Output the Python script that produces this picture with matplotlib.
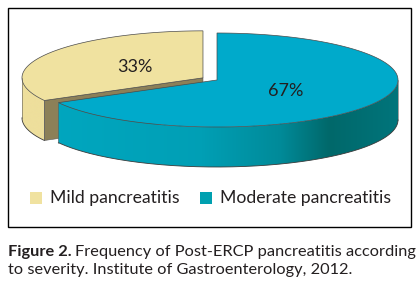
import numpy as np
import matplotlib.pyplot as plt
from matplotlib.patches import Polygon, Rectangle
from matplotlib.colors import to_rgb

# data
categories = ['Mild pancreatitis', 'Moderate pancreatitis']
values = [33, 67]
pct_labels = ['33%', '67%']
top_colors = ['#F0E2A0', '#00AACB']
side_light = ['#EEDF9C', '#00A7C0']
side_dark = ['#E2D28C', '#00686A']
legend_colors = ['#F0E2A0', '#00A0B0']
explode = [0.09, 0.0]

plt.rcParams['font.family'] = ['Lato', 'DejaVu Sans']

fig = plt.figure(figsize=(4.2, 2.89), dpi=100)
ax = fig.add_axes([0, 0, 1, 1])
ax.axis('off')

# pie geometry in pixel space
cx, cy, a, b, depth = 217, 80, 181, 47, 40


def pt(t, ox=0.0, oy=0.0, dz=0.0):
    r = np.radians(t)
    return cx + ox + a * np.cos(r), cy + oy - b * np.sin(r) + dz


def front_part(t0, t1):
    # part of the arc that faces the viewer (lower half of the ellipse)
    for k in (-1, 0, 1):
        lo, hi = max(t0, 180 + 360 * k), min(t1, 360 + 360 * k)
        if hi > lo:
            return lo, hi
    return None


total = float(sum(values))
angles = []
start = 90.0
for v in values:
    span = 360.0 * v / total
    angles.append((start, start + span))
    start += span

# border box
ax.add_patch(Rectangle((8, 8), 403, 219, fill=False, edgecolor='black', lw=1.0))

for i, (t0, t1) in enumerate(angles):
    mid = np.radians((t0 + t1) / 2)
    ox = explode[i] * a * np.cos(mid)
    oy = -explode[i] * b * np.sin(mid)

    # outer side with horizontal shading
    fp = front_part(t0, t1)
    if fp is not None:
        ts = np.linspace(fp[0], fp[1], 200)
        top = [pt(t, ox, oy) for t in ts]
        bot = [pt(t, ox, oy, depth) for t in ts[::-1]]
        side = Polygon(top + bot, closed=True, facecolor='none', edgecolor='none')
        ax.add_patch(side)
        xs = np.array([p[0] for p in top])
        x0, x1 = xs.min(), xs.max()
        gx = np.linspace(x0, x1, 300)
        w = np.interp(gx, [40, 200, 280, 330, 398], [0.0, 0.12, 0.45, 1.0, 0.8])
        c0 = np.array(to_rgb(side_light[i]))
        c1 = np.array(to_rgb(side_dark[i]))
        grad = ((1 - w)[:, None] * c0 + w[:, None] * c1)[None, :, :]
        ys = [p[1] for p in top + bot]
        im = ax.imshow(grad, extent=[x0, x1, max(ys), min(ys)], aspect='auto',
                       interpolation='bilinear', zorder=side.get_zorder())
        im.set_clip_path(side)
        bx, by = zip(*bot)
        ax.plot(bx, by, color='#3a3a3a', lw=0.6)
        for t in fp:
            px, py = pt(t, ox, oy)
            ax.plot([px, px], [py, py + depth], color='#5a5a5a', lw=0.4)

    # visible cut face (points towards the viewer)
    if np.sin(np.radians(t1 + 90)) < 0:
        ex, ey = pt(t1, ox, oy)
        c0 = (cx + ox, cy + oy)
        face = [c0, (ex, ey), (ex, ey + depth), (c0[0], c0[1] + depth)]
        ax.add_patch(Polygon(face, closed=True, facecolor='#8C8058', edgecolor='#5a5a5a', lw=0.4))

    # top face
    ts = np.linspace(t0, t1, 200)
    poly = [(cx + ox, cy + oy)] + [pt(t, ox, oy) for t in ts]
    ax.add_patch(Polygon(poly, closed=True, facecolor=top_colors[i], edgecolor='#4a4a4a', lw=0.5))

    # percentage label
    r = 0.44
    lx = cx + ox + r * a * np.cos(mid)
    ly = cy + oy - r * b * np.sin(mid)
    ax.text(lx, ly, pct_labels[i], ha='center', va='center', fontsize=13, color='#231F20')

# legend
leg_x = [30, 200]
for i, name in enumerate(categories):
    ax.add_patch(Rectangle((leg_x[i], 192), 12, 12, facecolor=legend_colors[i], edgecolor='none'))
    ax.text(leg_x[i] + 20, 198, name, ha='left', va='center', fontsize=12.7, color='#231F20')

ax.set_xlim(0, 420)
ax.set_ylim(289, 0)

# caption
fig.canvas.draw()
renderer = fig.canvas.get_renderer()
bold = ax.text(8, 252, 'Figure 2.', ha='left', va='center', fontsize=11.8,
               fontweight='bold', color='#231F20')
bb = bold.get_window_extent(renderer=renderer)
x_end = ax.transData.inverted().transform((bb.x1, bb.y0))[0]
ax.text(x_end + 3, 252, 'Frequency of Post-ERCP pancreatitis according',
        ha='left', va='center', fontsize=11.8, color='#231F20')
ax.text(8, 270, 'to severity. Institute of Gastroenterology, 2012.',
        ha='left', va='center', fontsize=11.8, color='#231F20')

fig.savefig('out.png', dpi=100)
